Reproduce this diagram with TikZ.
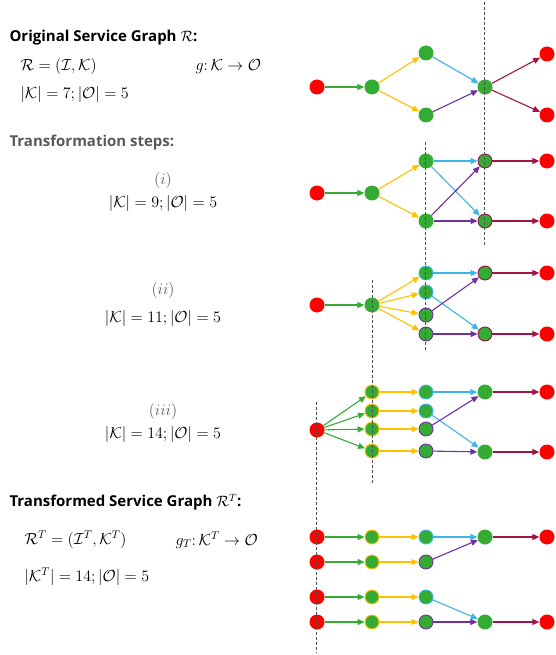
\RequirePackage{fix-cm}
\documentclass[tikz,border=0pt]{standalone}
\usepackage{amsmath}
\usepackage{fontspec}
\usetikzlibrary{arrows.meta}
\newfontfamily\headfont{Open Sans}
\definecolor{srcred}{RGB}{255, 0, 0}
\definecolor{svcgreen}{RGB}{52, 172, 52}
\definecolor{flowyellow}{RGB}{255, 192, 0}
\definecolor{flowcyan}{RGB}{60, 180, 230}
\definecolor{flowpurple}{RGB}{112, 48, 160}
\definecolor{flowmaroon}{RGB}{162, 20, 70}
\definecolor{headgray}{RGB}{89, 89, 89}
\definecolor{cutgray}{RGB}{80, 80, 80}

\tikzset{
  src/.style={circle, fill=srcred, minimum size=15pt, inner sep=0pt},
  svc/.style={circle, fill=svcgreen, minimum size=15pt, inner sep=0pt},
  svcY/.style={svc, draw=flowyellow, line width=0.9pt, minimum size=14pt},
  svcC/.style={svc, draw=flowcyan, line width=0.9pt, minimum size=14pt},
  svcP/.style={svc, draw=flowpurple, line width=0.9pt, minimum size=14pt},
  svcM/.style={svc, draw=flowmaroon, line width=0.9pt, minimum size=14pt},
  flow/.style={-{Triangle[length=7pt, width=6pt]}, line width=1.1pt},
  cutline/.style={cutgray, line width=0.9pt, dash pattern=on 3pt off 2pt},
  heading/.style={anchor=west, font=\headfont\bfseries\fontsize{15}{18}\selectfont},
  formula/.style={anchor=west, font=\fontsize{16}{19}\selectfont},
  steplabel/.style={font=\fontsize{16}{19}\selectfont}
}

\begin{document}
\begin{tikzpicture}[x=1pt, y=-1pt]
    \useasboundingbox (0,0) rectangle (555,655);

    % Texts
    \node[heading] (h0) at (6,38) {Original Service Graph $\mathcal{R}$:};
    \node[formula] (e0) at (17,67) {$\mathcal{R} = (\mathcal{I},\mathcal{K})$};
    \node[formula] (f0) at (192,67) {$g{:}\,\mathcal{K} \rightarrow \mathcal{O}$};
    \node[formula] (n0) at (17,95) {$|\mathcal{K}| = 7; |\mathcal{O}| = 5$};

    \node[heading, text=headgray] (h1) at (6,143) {Transformation steps:};
    \node[steplabel, text=headgray] (s1) at (163,181) {$(i)$};
    \node[steplabel] (n1) at (163,203) {$|\mathcal{K}| = 9; |\mathcal{O}| = 5$};
    \node[steplabel, text=headgray] (s2) at (163,290) {$(ii)$};
    \node[steplabel] (n2) at (163,318) {$|\mathcal{K}| = 11; |\mathcal{O}| = 5$};
    \node[steplabel, text=headgray] (s3) at (163,411) {$(iii)$};
    \node[steplabel] (n3) at (163,434) {$|\mathcal{K}| = 14; |\mathcal{O}| = 5$};

    \node[heading] (h2) at (6,502) {Transformed Service Graph $\mathcal{R}^T$:};
    \node[formula] (e4) at (21,540) {$\mathcal{R}^T = (\mathcal{I}^T,\mathcal{K}^T)$};
    \node[formula] (f4) at (172,540) {$g_T{:}\,\mathcal{K}^T \rightarrow \mathcal{O}$};
    \node[formula] (n4) at (21,577) {$|\mathcal{K}^T| = 14; |\mathcal{O}| = 5$};

    % Original graph
    \node[src] (o0) at (317,87) {};
    \node[svc] (o1) at (372,87) {};
    \node[svc] (o2) at (426,53) {};
    \node[svc] (o3) at (426,115) {};
    \node[svc] (o4) at (485,87) {};
    \node[src] (o5) at (547,54) {};
    \node[src] (o6) at (547,115) {};
    \draw[flow, svcgreen] (o0) -- (o1);
    \draw[flow, flowyellow] (o1) -- (o2);
    \draw[flow, flowyellow] (o1) -- (o3);
    \draw[flow, flowcyan] (o2) -- (o4);
    \draw[flow, flowpurple] (o3) -- (o4);
    \draw[flow, flowmaroon] (o4) -- (o5);
    \draw[flow, flowmaroon] (o4) -- (o6);

    % Step (i)
    \node[src] (a0) at (317,193) {};
    \node[svc] (a1) at (372,193) {};
    \node[svc] (a2) at (426,161) {};
    \node[svc] (a3) at (426,221) {};
    \node[svcM] (a4) at (485,161) {};
    \node[svcM] (a5) at (485,221) {};
    \node[src] (a6) at (547,161) {};
    \node[src] (a7) at (547,221) {};
    \draw[flow, svcgreen] (a0) -- (a1);
    \draw[flow, flowyellow] (a1) -- (a2);
    \draw[flow, flowyellow] (a1) -- (a3);
    \draw[flow, flowcyan] (a2) -- (a4);
    \draw[flow, flowcyan] (a2) -- (a5);
    \draw[flow, flowpurple] (a3) -- (a4);
    \draw[flow, flowpurple] (a3) -- (a5);
    \draw[flow, flowmaroon] (a4) -- (a6);
    \draw[flow, flowmaroon] (a5) -- (a7);

    % Step (ii)
    \node[src] (b0) at (317,305) {};
    \node[svc] (b1) at (372,305) {};
    \node[svcC] (b2) at (426,273) {};
    \node[svcC] (b3) at (426,292) {};
    \node[svcP] (b4) at (426,315) {};
    \node[svcP] (b5) at (426,334) {};
    \node[svcM] (b6) at (485,273) {};
    \node[svcM] (b7) at (485,334) {};
    \node[src] (b8) at (547,273) {};
    \node[src] (b9) at (547,334) {};
    \draw[flow, svcgreen] (b0) -- (b1);
    \foreach \t in {b2,b3,b4,b5}
        \draw[flow, flowyellow] (b1) -- (\t);
    \draw[flow, flowcyan] (b2) -- (b6);
    \draw[flow, flowcyan] (b3) -- (b7);
    \draw[flow, flowpurple] (b4) -- (b6);
    \draw[flow, flowpurple] (b5) -- (b7);
    \draw[flow, flowmaroon] (b6) -- (b8);
    \draw[flow, flowmaroon] (b7) -- (b9);

    % Step (iii)
    \node[src] (c0) at (317,430) {};
    \node[svcY] (c1) at (372,392) {};
    \node[svcY] (c2) at (372,411) {};
    \node[svcY] (c3) at (372,429) {};
    \node[svcY] (c4) at (372,451) {};
    \node[svcC] (c5) at (426,392) {};
    \node[svcC] (c6) at (426,411) {};
    \node[svcP] (c7) at (426,429) {};
    \node[svcP] (c8) at (426,451) {};
    \node[svc] (c9) at (485,392) {};
    \node[svc] (c10) at (485,452) {};
    \node[src] (c11) at (547,392) {};
    \node[src] (c12) at (547,452) {};
    \foreach \i/\j in {1/5,2/6,3/7,4/8} {
        \draw[flow, svcgreen] (c0) -- (c\i);
        \draw[flow, flowyellow] (c\i) -- (c\j);
    }
    \draw[flow, flowcyan] (c5) -- (c9);
    \draw[flow, flowcyan] (c6) -- (c10);
    \draw[flow, flowpurple] (c7) -- (c9);
    \draw[flow, flowpurple] (c8) -- (c10);
    \draw[flow, flowmaroon] (c9) -- (c11);
    \draw[flow, flowmaroon] (c10) -- (c12);

    % Transformed graph
    \foreach \i/\y/\s in {1/537/svcC, 2/562/svcP, 3/597/svcC, 4/622/svcP} {
        \node[src] (d\i) at (317,\y) {};
        \node[svcY] (e\i) at (372,\y) {};
        \node[\s] (k\i) at (426,\y) {};
        \draw[flow, svcgreen] (d\i) -- (e\i);
        \draw[flow, flowyellow] (e\i) -- (k\i);
    }
    \node[svc] (m1) at (485,537) {};
    \node[svc] (m2) at (485,622) {};
    \node[src] (t1) at (547,537) {};
    \node[src] (t2) at (547,622) {};
    \draw[flow, flowcyan] (k1) -- (m1);
    \draw[flow, flowpurple] (k2) -- (m1);
    \draw[flow, flowcyan] (k3) -- (m2);
    \draw[flow, flowpurple] (k4) -- (m2);
    \draw[flow, flowmaroon] (m1) -- (t1);
    \draw[flow, flowmaroon] (m2) -- (t2);

    % Cuts
    \draw[cutline] (484,2) -- (484,247);
    \draw[cutline] (425,142) -- (425,350);
    \draw[cutline] (372,280) -- (372,483);
    \draw[cutline] (316,402) -- (316,653);
\end{tikzpicture}
\end{document}
